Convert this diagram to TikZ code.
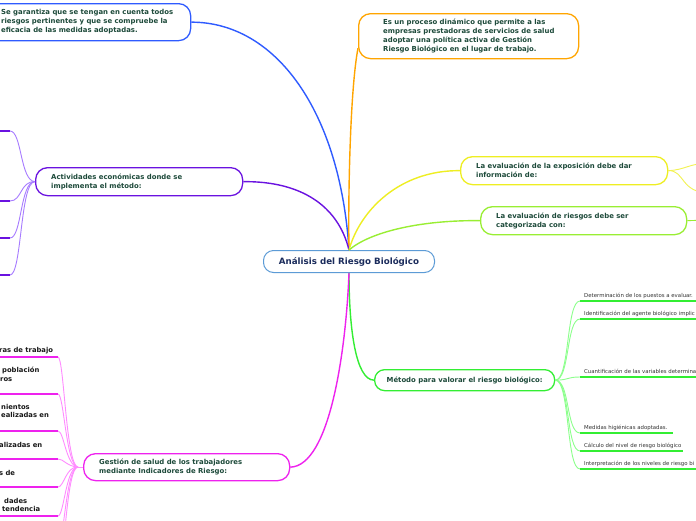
\documentclass[tikz,border=0pt]{standalone}
\usepackage{fontspec}
\setmainfont{DejaVu Sans}
\definecolor{cblue}{HTML}{2F5BFF}
\definecolor{corange}{HTML}{FFA500}
\definecolor{cctr}{HTML}{5C9BD6}
\definecolor{cpurple}{HTML}{6A12E0}
\definecolor{cpurplel}{HTML}{A77BFF}
\definecolor{cyellow}{HTML}{EEEE22}
\definecolor{cyellowl}{HTML}{F2F250}
\definecolor{clime}{HTML}{99EE33}
\definecolor{cgreen}{HTML}{33EE33}
\definecolor{cgreenl}{HTML}{8CFF8C}
\definecolor{cmag}{HTML}{EE22EE}
\definecolor{cmagl}{HTML}{FF8CFF}
\definecolor{txtgreen}{HTML}{1D4A3A}
\definecolor{ctrtext}{HTML}{1B2C5C}
\definecolor{gray3}{HTML}{333333}
\tikzset{
  box/.style={draw=#1, line width=1.3pt, rounded corners=12pt, fill=white, inner sep=0pt, anchor=north west},
  mtxt/.style={font=\bfseries\fontsize{6.9}{9}\selectfont, text=txtgreen, align=left, inner sep=0pt, anchor=west},
  link/.style={draw=#1, line width=1.4pt},
  childlink/.style={draw=#1, line width=0.9pt},
  uline/.style={draw=#1, line width=2pt},
  ctxt/.style={font=\fontsize{5.4}{6}\selectfont, text=gray3, inner sep=0pt, anchor=base west},
  ltxt/.style={font=\bfseries\fontsize{6.8}{8.5}\selectfont, text=black!90, inner sep=0pt, anchor=base west},
}
\begin{document}
\begin{tikzpicture}[x=1pt,y=-1pt]
\useasboundingbox (0,0) rectangle (696,520);
\clip (0,0) rectangle (696,520);
\fill[white] (0,0) rectangle (696,520);

% ---------- main boxes ----------
\node[box=cblue, minimum width=210, minimum height=37] (bl) at (-20,3) {};
\node[mtxt] (blt) at (1,21.5) {Se garantiza que se tengan en cuenta todos\\riesgos pertinentes y que se compruebe la\\eficacia de las medidas adoptadas.};

\node[box=corange, minimum width=220, minimum height=45] (or) at (358,13) {};
\node[mtxt] (ort) at ([xshift=25]or.west) {Es un proceso dinámico que permite a las\\empresas prestadoras de servicios de salud\\adoptar una política activa de Gestión\\Riesgo Biológico en el lugar de trabajo.};

\node[draw=cctr, line width=1pt, rounded corners=10pt, fill=white, minimum width=171, minimum height=22, inner sep=0pt, anchor=north west,
      font=\bfseries\fontsize{8.7}{9}\selectfont, text=ctrtext] (ctr) at (263,250) {Análisis del Riesgo Biológico};

\node[box=cpurple, minimum width=207, minimum height=28] (act) at (35,167) {};
\node[mtxt] (actt) at ([xshift=16]act.west) {Actividades económicas donde se\\implementa el método:};

\node[box=cyellow, minimum width=207, minimum height=28] (yel) at (460,156) {};
\node[mtxt] (yelt) at ([xshift=16]yel.west) {La evaluación de la exposición debe dar\\información de:};

\node[box=clime, minimum width=206, minimum height=28] (lim) at (480,206) {};
\node[mtxt] (limt) at ([xshift=16]lim.west) {La evaluación de riesgos debe ser\\categorizada con:};

\node[box=cgreen, minimum width=180, minimum height=21, rounded corners=10pt] (met) at (374,369) {};
\node[mtxt, anchor=center] (mett) at (met.center) {Método para valorar el riesgo biológico:};

\node[box=cmag, minimum width=206, minimum height=27] (ges) at (83,453) {};
\node[mtxt] (gest) at ([xshift=16]ges.west) {Gestión de salud de los trabajadores\\mediante Indicadores de Riesgo:};

% ---------- main connectors ----------
\draw[link=cblue] (bl.east) .. controls (275,22) and (340,110) .. (ctr.north);
\draw[link=corange] ([yshift=-12]or.west) .. controls (350,90) and (348,200) .. (ctr.north);
\draw[link=cpurple] (act.east) .. controls (300,181) and (338,205) .. (ctr.north);
\draw[link=cyellow] (yel.west) .. controls (400,170) and (360,210) .. (ctr.north);
\draw[link=clime] (lim.west) .. controls (420,220) and (370,232) .. (ctr.north);
\draw[link=cgreen] (met.west) .. controls (356,380) and (349,330) .. (ctr.south);
\draw[link=cmag] (ges.east) .. controls (330,466) and (346,350) .. (ctr.south);

% ---------- purple children (text off the page) ----------
\foreach \n/\yy in {1/131,2/201,3/238,4/275}{
  \coordinate (pa\n) at (10,\yy);
  \draw[childlink=cpurplel] (act.west) .. controls (20,181) and (22,\yy) .. (pa\n);
  \draw[uline=cpurple] (pa\n) -- (-10,\yy);
}

% ---------- yellow / lime right children ----------
\coordinate (ya) at (710,163);
\coordinate (yb) at (710,193);
\draw[childlink=cyellowl] (yel.east) .. controls (685,170) and (690,163) .. (ya);
\draw[childlink=cyellowl] (yel.east) .. controls (685,170) and (680,193) .. (yb);
\coordinate (la) at (710,220);
\draw[childlink=clime] (lim.east) -- (la);

% ---------- method children ----------
\foreach \n/\yy/\xe/\t in {
  1/301/720/{Determinación de los puestos a evaluar.},
  2/319/720/{Identificación del agente biológico implic},
  3/377/720/{Cuantificación de las variables determina},
  4/433/673/{Medidas higiénicas adoptadas.},
  5/451/683/{Cálculo del nivel de riesgo biológico},
  6/469/720/{Interpretación de los niveles de riesgo bi}}{
  \coordinate (ma\n) at (580,\yy);
  \draw[childlink=cgreenl] (met.east) .. controls (570,380) and (566,\yy) .. (ma\n);
  \draw[uline=cgreen] (ma\n) -- (\xe,\yy);
  \node[ctxt] (mt\n) at (584,\yy-4) {\t};
}

% ---------- management children ----------
\foreach \n/\yy in {1/357,2/394,3/431,4/459,5/487,6/516,7/545,8/575}{
  \coordinate (ga\n) at (58,\yy);
  \draw[childlink=cmagl] ([xshift=-5]ges.west) .. controls (66,466) and (64,\yy) .. (ga\n);
  \draw[uline=cmag] (ga\n) -- (-10,\yy);
}
\draw[childlink=cmagl] (ges.west) -- ([xshift=-5]ges.west);
\node[ltxt] (gt1) at (-1,352) {ras de trabajo};
\node[ltxt] (gt2a) at (2,372) {población};
\node[ltxt] (gt2b) at (0,381) {ros};
\node[ltxt] (gt3a) at (1,409) {nientos};
\node[ltxt] (gt3b) at (1,417) {ealizadas en};
\node[ltxt] (gt4) at (-1,447) {alizadas en};
\node[ltxt] (gt5) at (-1,475) {s de};
\node[ltxt] (gt6a) at (4,503) {dades};
\node[ltxt] (gt6b) at (2,511) {tendencia};
\end{tikzpicture}
\end{document}
